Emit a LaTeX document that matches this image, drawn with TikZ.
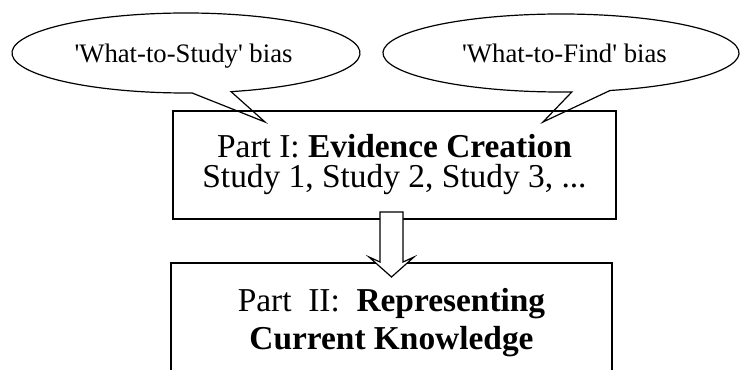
\documentclass[tikz,border=0pt]{standalone}
\usepackage{fontspec}
\setmainfont{Liberation Serif}
\begin{document}
\begin{tikzpicture}[x=1pt,y=1pt,line width=1.2pt,
  boxshape/.style={draw,rectangle,inner sep=0pt},
  bigtext/.style={font=\fontsize{33.4}{30}\selectfont,anchor=base,inner sep=0pt},
  smalltext/.style={font=\fontsize{26.7}{30}\selectfont,anchor=base,inner sep=0pt},
  outline/.style={draw,line join=miter}]
\clip (0,0) rectangle (740,370);
% callouts
\coordinate (tipL) at (265,248);
\coordinate (tipR) at (543,248);
\draw[outline,fill=white] (186,317) ++(-75:174pt and 40pt)
  arc[start angle=-75,end angle=272,x radius=174pt,y radius=40pt] -- (tipL) -- cycle;
\draw[outline,fill=white] (561,317) ++(-74:178pt and 39pt)
  arc[start angle=-74,end angle=273.5,x radius=178pt,y radius=39pt] -- (tipR) -- cycle;
\node[smalltext] (wts) at (183.5,307) {\textquotesingle What-to-Study\textquotesingle{} bias};
\node[smalltext] (wtf) at (564.5,307) {\textquotesingle What-to-Find\textquotesingle{} bias};
% boxes
\node[boxshape,minimum width=443,minimum height=108] (p1) at (394.5,205) {};
\node[bigtext,align=center] (p1t) at (394.5,182) {Part I: \textbf{Evidence Creation}\\Study 1, Study 2, Study 3, ...};
\node[boxshape,minimum width=441,minimum height=150] (p2) at (391.5,32) {};
\node[bigtext,align=center,font=\fontsize{33.4}{38}\selectfont] (p2t) at (391.5,20) {Part\ \ II:\ \ \textbf{Representing}\\\textbf{Current Knowledge}};
% block arrow
\coordinate (atop) at (391.5,158);
\draw[outline,fill=white] (atop) ++(-11.5,0) -- ++(0,-50) -- ++(-11,5) -- (391.5,93)
  -- (414,113) -- (403,108) -- (403,158) -- cycle;
\end{tikzpicture}
\end{document}
